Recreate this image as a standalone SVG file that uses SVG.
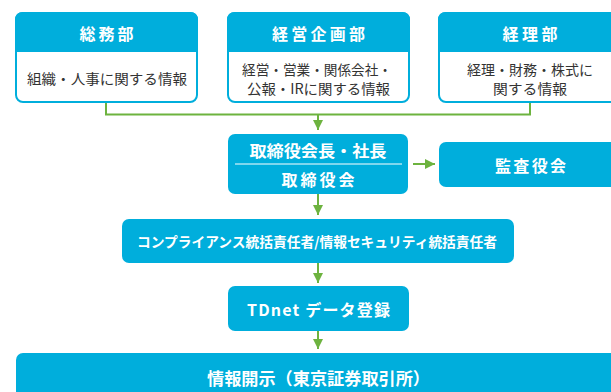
<svg xmlns="http://www.w3.org/2000/svg" width="611" height="392" viewBox="0 0 611 392">
<defs>
<style>
.blue{fill:#00AEDC}
.frame{fill:#FFFFFF;stroke:#00AEDC;stroke-width:2}
.hd{font-family:"Noto Sans CJK JP","Noto Sans",sans-serif;font-weight:bold;fill:#FFFFFF;text-anchor:middle;dominant-baseline:central}
.bd{font-family:"Noto Sans CJK JP","Noto Sans",sans-serif;fill:#333333;font-size:14px;text-anchor:middle;dominant-baseline:central}
.con{fill:none;stroke:#6DB33F;stroke-width:2}
.div{stroke:#FFFFFF;stroke-width:1}
</style>
<marker id="ah" markerUnits="userSpaceOnUse" markerWidth="11" markerHeight="11" refX="10" refY="5" orient="auto">
<path d="M0,0 L10,5 L0,10 Z" fill="#6DB33F"/>
</marker>
</defs>
<rect width="611" height="392" fill="#FFFFFF"/>

<g id="connectors">
<polyline class="con" points="106,102 106,114.5 530,114.5 530,102"/>
<line class="con" x1="318" y1="114.5" x2="318" y2="130" marker-end="url(#ah)"/>
<line class="con" x1="413" y1="164" x2="435" y2="164" marker-end="url(#ah)"/>
<line class="con" x1="318" y1="194" x2="318" y2="215" marker-end="url(#ah)"/>
<line class="con" x1="318" y1="263" x2="318" y2="283" marker-end="url(#ah)"/>
<line class="con" x1="318" y1="331" x2="318" y2="349" marker-end="url(#ah)"/>
</g>

<g id="soumu">
<rect class="frame" x="16" y="13" width="181" height="89" rx="7"/>
<path class="blue" d="M15,52 V20 Q15,12 23,12 H190 Q198,12 198,20 V52 Z"/>
<text class="hd" x="106.5" y="33" font-size="16" textLength="54" lengthAdjust="spacing">総務部</text>
<text class="bd" x="107" y="77.5" textLength="160" lengthAdjust="spacingAndGlyphs">組織・人事に関する情報</text>
</g>

<g id="keiei">
<rect class="frame" x="228" y="13" width="181" height="89" rx="7"/>
<path class="blue" d="M227,52 V20 Q227,12 235,12 H402 Q410,12 410,20 V52 Z"/>
<text class="hd" x="318.5" y="33" font-size="16" textLength="93" lengthAdjust="spacing">経営企画部</text>
<text class="bd" x="317" y="69" font-size="13.5" textLength="150" lengthAdjust="spacingAndGlyphs">経営・営業・関係会社・</text>
<text class="bd" x="318.5" y="87.5" font-size="13.5" textLength="143" lengthAdjust="spacingAndGlyphs">公報・IRに関する情報</text>
</g>

<g id="keiri">
<rect class="frame" x="439" y="13" width="182" height="89" rx="7"/>
<path class="blue" d="M438,52 V20 Q438,12 446,12 H614 Q622,12 622,20 V52 Z"/>
<text class="hd" x="530" y="33" font-size="16" textLength="55" lengthAdjust="spacing">経理部</text>
<text class="bd" x="530" y="69" font-size="13.5" textLength="126" lengthAdjust="spacingAndGlyphs">経理・財務・株式に</text>
<text class="bd" x="530" y="87.5" font-size="13.5" textLength="74" lengthAdjust="spacingAndGlyphs">関する情報</text>
</g>

<g id="torishimariyaku">
<rect class="blue" x="228" y="134" width="180" height="60" rx="7"/>
<line class="div" x1="235" y1="164" x2="402" y2="164"/>
<text class="hd" x="318" y="150" font-size="16" textLength="137" lengthAdjust="spacingAndGlyphs">取締役会長・社長</text>
<text class="hd" x="318" y="178.5" font-size="16" textLength="73" lengthAdjust="spacing">取締役会</text>
</g>

<g id="kansayaku">
<rect class="blue" x="439" y="142" width="182" height="45" rx="7"/>
<text class="hd" x="530.5" y="164.5" font-size="16" textLength="71" lengthAdjust="spacing">監査役会</text>
</g>

<g id="compliance">
<rect class="blue" x="122" y="219" width="392" height="44" rx="7"/>
<text class="hd" x="317" y="241" font-size="14" textLength="360" lengthAdjust="spacingAndGlyphs">コンプライアンス統括責任者/情報セキュリティ統括責任者</text>
</g>

<g id="tdnet">
<rect class="blue" x="228" y="286" width="181" height="45" rx="7"/>
<text class="hd" x="318.5" y="308.5" font-size="16" textLength="143" lengthAdjust="spacing">TDnet データ登録</text>
</g>

<g id="disclosure">
<rect class="blue" x="16" y="353" width="610" height="50" rx="7"/>
<text class="hd" x="318.5" y="377" font-size="17" textLength="223" lengthAdjust="spacingAndGlyphs">情報開示（東京証券取引所）</text>
</g>
</svg>
